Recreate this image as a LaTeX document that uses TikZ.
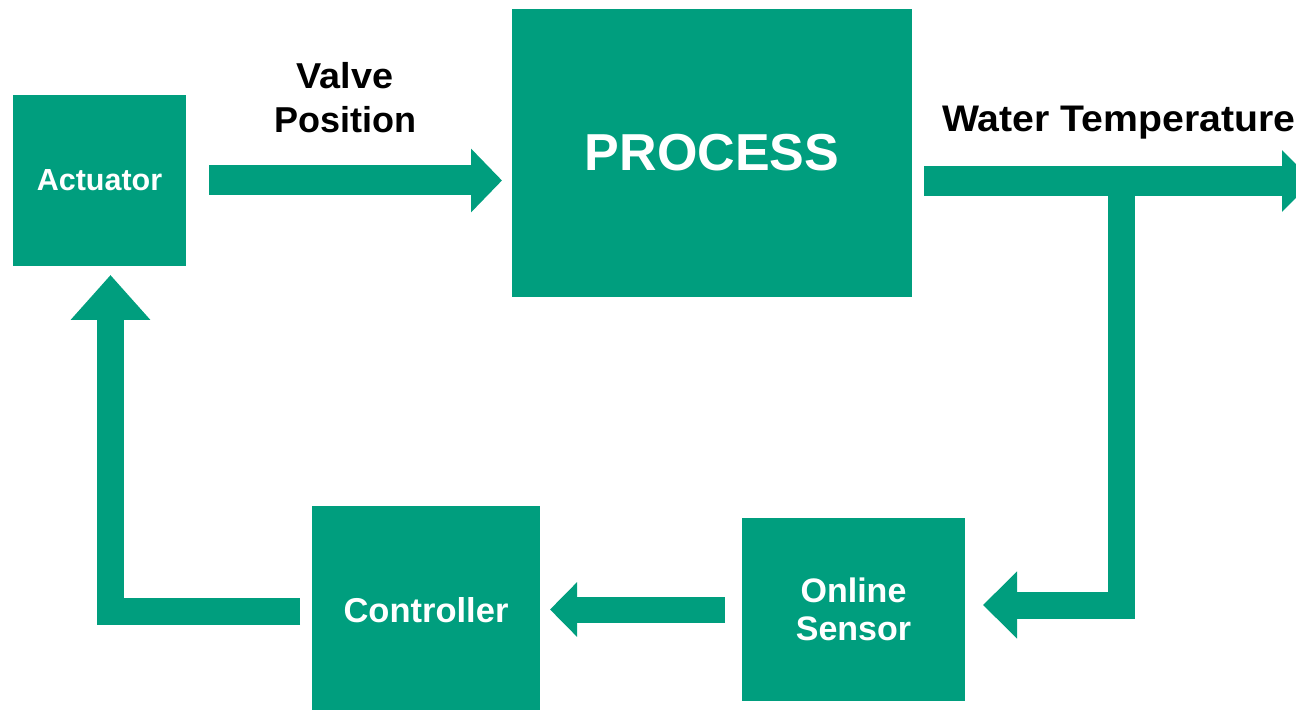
\documentclass[tikz,border=0pt]{standalone}
\usepackage{fontspec}
\setmainfont{Liberation Sans}
\usetikzlibrary{arrows.meta}
\definecolor{loopgreen}{RGB}{0,158,126}
\begin{document}
\begin{tikzpicture}[x=1pt,y=-1pt,
  blk/.style={fill=loopgreen, inner sep=0pt, outer sep=0pt, text=white, align=center},
  pipe/.style={draw=loopgreen, line cap=butt, line join=miter},
  lbl/.style={text=black, align=center, inner sep=0pt}]
\useasboundingbox (0,0) rectangle (1296,711);
\clip (0,0) rectangle (1296,711);

% blocks of the control loop
\node[blk, minimum width=173pt, minimum height=171pt,
      font=\bfseries\fontsize{30.5}{36}\selectfont] (act) at (99.5,180.5) {Actuator};
\node[blk, minimum width=400pt, minimum height=288pt,
      font=\bfseries\fontsize{52}{60}\selectfont] (proc) at (712,153) {PROCESS};
\node[blk, minimum width=228pt, minimum height=204pt,
      text height=28pt, text depth=-5pt,
      font=\bfseries\fontsize{34.5}{40}\selectfont] (ctrl) at (426,608) {Controller};
\node[blk, minimum width=223pt, minimum height=183pt,
      font=\bfseries\fontsize{34}{38}\selectfont] (sens) at (853.5,609.5) {Online\\Sensor};

% signal labels
\node[lbl, font=\bfseries\fontsize{36}{44}\selectfont] (vp) at (345,97.5)
  {\scalebox{1.05}[1]{Valve}\\Position};
\node[lbl, anchor=base west, font=\bfseries\fontsize{37}{44}\selectfont] (wt) at (942,132)
  {\scalebox{1.06}[1]{Water Temperature}};

% routing points
\coordinate (tap) at (1121.5,181);
\coordinate (outend) at (1313,181);
\coordinate (bend) at (1121.5,605);
\coordinate (ret) at (110.5,611);

% actuator drives the process
\draw[pipe, line width=30pt, -{Triangle[length=31pt,width=62pt]}]
  ([xshift=23pt]act.east) -- ([xshift=-10pt]proc.west |- act.east);
% process output
\draw[pipe, line width=30pt, -{Triangle[length=31pt,width=60pt]}]
  ([xshift=12pt]proc.east |- tap) -- (outend);
% measurement branch to the sensor
\draw[pipe, line width=27pt, -{Triangle[length=34pt,width=65pt]}]
  (tap) -- (bend) -- ([xshift=18pt]sens.east |- bend);
% sensor to controller
\draw[pipe, line width=26pt, -{Triangle[length=27pt,width=53pt]}]
  ([xshift=-17pt]sens.west) -- ([xshift=10pt]ctrl.east |- sens.west);
% controller back to actuator
\draw[pipe, line width=27pt, -{Triangle[length=45pt,width=77pt]}]
  ([xshift=-12pt]ctrl.west |- ret) -- (ret) -- ([yshift=-9pt]act.south -| ret);
\end{tikzpicture}
\end{document}
